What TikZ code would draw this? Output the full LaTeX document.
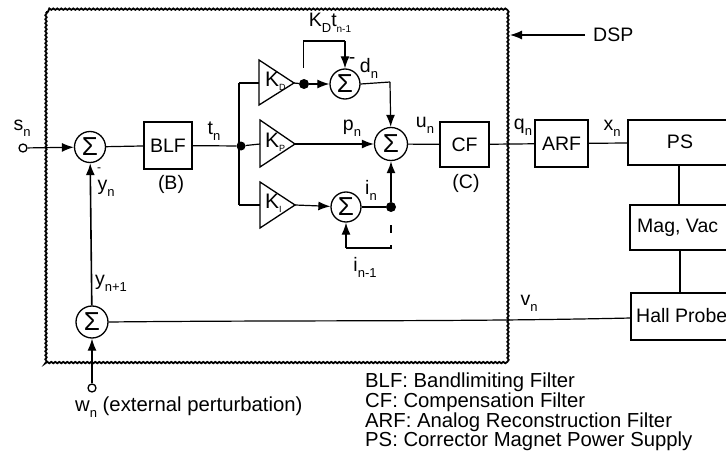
\documentclass[tikz,border=0pt]{standalone}
\usepackage{fontspec}
\setmainfont{Liberation Sans}
\usetikzlibrary{arrows.meta,decorations.pathmorphing}
\tikzset{
 wire/.style={line width=1.2pt},
 thick wire/.style={line width=1.6pt},
 arr/.style={wire,-{Latex[length=12pt,width=9pt]}},
 sumnode/.style={circle,draw,line width=1.3pt,minimum size=#1,inner sep=0pt,font=\fontsize{26}{26}\selectfont},
 sumnode/.default=31pt,
 blockbox/.style={draw,line width=1.3pt,inner sep=0pt,font=\fontsize{19.5}{20}\selectfont},
 amp/.style={draw,line width=1.3pt},
 lab/.style={inner sep=0pt,font=\fontsize{19.5}{20}\selectfont},
 legend/.style={inner sep=0pt,anchor=west,font=\fontsize{20.3}{20.3}\selectfont},
 tinylab/.style={inner sep=0pt,font=\fontsize{12}{12}\selectfont},
 dotnode/.style={circle,fill=black,minimum size=#1,inner sep=0pt},
 dotnode/.default=10pt,
 term/.style={circle,draw,line width=1.3pt,fill=white,minimum size=8pt,inner sep=0pt},
}
\newcommand{\ssub}[2]{#1\raisebox{-6pt}{\fontsize{13}{13}\selectfont #2}}
\begin{document}
\begin{tikzpicture}[x=1pt,y=-1pt]
\clip (0,0) rectangle (726,452);
% DSP boundary
\draw[line width=1.8pt,decorate,decoration={snake,amplitude=0.7pt,segment length=4pt}] (46,12) rectangle (508,363);
% nodes
\node[term] (s) at (23,148) {};
\node[sumnode] (S1) at (90,147) {Σ};
\node[blockbox,minimum width=48pt,minimum height=47pt] (BLF) at (168,145.5) {BLF};
\node[dotnode=9pt] (J) at (241,146) {};
\coordinate (Jt) at (239,83);
\coordinate (Jb) at (239,205);
\coordinate (A1l) at (259,83);
\coordinate (A2l) at (260,144);
\coordinate (A3l) at (260,205);
\draw[amp] (259,60) -- (259,105) -- (294,83) -- cycle;
\draw[amp] (260,120) -- (260,167) -- (295,144) -- cycle;
\draw[amp] (260,182) -- (260,228) -- (295,205) -- cycle;
\coordinate (A1r) at (294,83);
\coordinate (A2r) at (295,144);
\coordinate (A3r) at (295,205);
\node[lab,anchor=west] at (265,81) {\fontsize{21}{21}\selectfont K\raisebox{-4pt}{\fontsize{9}{9}\selectfont D}};
\node[lab,anchor=west] at (265,142) {\fontsize{21}{21}\selectfont K\raisebox{-4pt}{\fontsize{9}{9}\selectfont P}};
\node[lab,anchor=west] at (265,203) {\fontsize{21}{21}\selectfont K\raisebox{-4pt}{\fontsize{9}{9}\selectfont I}};
\node[dotnode] (D1) at (304,84) {};
\node[sumnode=30pt] (S2) at (345,84) {Σ};
\node[sumnode=33pt] (S3) at (391,144) {Σ};
\node[sumnode=30pt] (S4) at (346,207) {Σ};
\node[dotnode] (D2) at (391,207) {};
\node[sumnode=32pt] (S5) at (92,322) {Σ};
\node[term] (w) at (92,388) {};
\node[blockbox,minimum width=49pt,minimum height=45pt] (CF) at (464.5,144.5) {CF};
\node[blockbox,minimum width=53pt,minimum height=47pt] (ARF) at (561.5,143.5) {ARF};
\node[lab] (PS) at (680,142) {PS};
\node[lab,anchor=west] (MV) at (637,228) {Mag, Vac};
\node[lab,anchor=west] (HP) at (636,316) {Hall Probe};
\draw[line width=1.3pt] (735,120) -- (628,120) -- (628,165) -- (735,165);
\draw[line width=1.3pt] (735,205) -- (630,205) -- (630,250) -- (735,250);
\draw[line width=1.3pt] (735,293) -- (631,293) -- (631,340) -- (735,340);
\coordinate (PSl) at (628,143);
\coordinate (PSd) at (679,165);
\coordinate (MVu) at (679,205);
\coordinate (MVd) at (680,250);
\coordinate (HPu) at (680,293);
\coordinate (HPl) at (631,318);
\coordinate (F0) at (303.5,68);
\coordinate (F1) at (303.5,41);
\coordinate (F2) at (345,41);
\coordinate (F3) at (391,225);
\coordinate (F4) at (391,233);
\coordinate (F5) at (391,245);
\coordinate (F6) at (391,248);
\coordinate (F7) at (346,248);
\coordinate (F8) at (390,82);
% connectors
\draw[arr] (s) -- (S1);
\draw[wire] (S1) -- (BLF);
\draw[wire] (BLF) -- (J);
\draw[thick wire] (Jt) -- (Jb);
\draw[wire] (Jt) -- (A1l);
\draw[wire] (J) -- (A2l);
\draw[wire] (Jb) -- (A3l);
\draw[wire] (A1r) -- (D1);
\draw[arr] (D1) -- (S2);
\draw[wire] (F0) -- (F1) -- (F2);
\draw[arr] (F2) -- (S2);
\draw[wire] (S2.east) -- (F8);
\draw[arr] (F8) -- (S3);
\draw[arr] (A2r) -- (S3);
\draw[arr] (A3r) -- (S4);
\draw[wire] (S4) -- (D2);
\draw[arr,thick wire] (D2) -- (S3);
\draw[wire] (F3) -- (F4);
\draw[wire] (F5) -- (F6) -- (F7);
\draw[arr] (F7) -- (S4);
\draw[wire] (S3) -- (CF);
\draw[wire] (CF) -- (ARF);
\draw[wire] (ARF) -- (PSl);
\draw[wire] (PSd) -- (MVu);
\draw[wire] (MVd) -- (HPu);
\draw[wire] (S5.east) .. controls (300,320) and (450,322) .. (HPl);
\draw[arr,thick wire] (S5) -- (S1);
\draw[arr] (w) -- (S5);
% labels
\node[lab] at (22,128) {\ssub{s}{n}};
\node[lab] at (214,131) {\ssub{t}{n}};
\node[lab] at (171,184) {(B)};
\node[lab] at (106,188) {\ssub{y}{n}};
\node[tinylab] at (99,170) {-};
\node[lab] at (111,283) {\ssub{y}{n+1}};
\node[lab] at (330,23) {K\raisebox{-6pt}{\fontsize{13}{13}\selectfont D}t\raisebox{-6pt}{\fontsize{10}{10}\selectfont n-1}};
\node[lab] at (352,61) {-};
\node[lab] at (369,68) {\ssub{d}{n}};
\node[lab] at (352,128) {\ssub{p}{n}};
\node[lab] at (371,190) {\ssub{i}{n}};
\node[lab] at (365,267) {\ssub{i}{n-1}};
\node[lab] at (425,125) {\ssub{u}{n}};
\node[lab] at (466,183) {(C)};
\node[lab] at (523,127) {\ssub{q}{n}};
\node[lab] at (612,128) {\ssub{x}{n}};
\node[lab] at (529,303) {\ssub{v}{n}};
\node[legend] at (75,407) {\ssub{w}{n} (external perturbation)};
\node[lab,anchor=west] (DSP) at (593,35) {DSP};
\coordinate (DSPa) at (585,35);
\draw[arr] (DSPa) -- (510,35);
\node[legend] at (365,382) {BLF: Bandlimiting Filter};
\node[legend] at (365,402) {CF: Compensation Filter};
\node[legend] at (365,422) {ARF: Analog Reconstruction Filter};
\node[legend] at (365,441) {PS: Corrector Magnet Power Supply};
\end{tikzpicture}
\end{document}
